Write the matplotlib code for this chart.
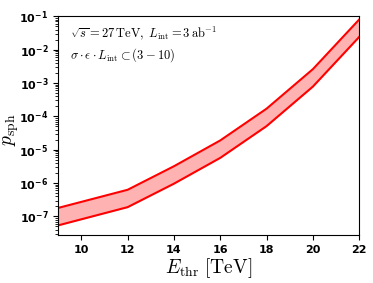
import numpy as np
import matplotlib
matplotlib.use('Agg')
import matplotlib.pyplot as plt

plt.rcParams['mathtext.fontset'] = 'cm'

# threshold energy [TeV] and band edges
E_thr = [9, 12, 14, 16, 18, 20, 22]
p_upper = [1.8e-7, 6.3e-7, 3.2e-6, 1.9e-5, 1.7e-4, 2.6e-3, 8.0e-2]
p_lower = [5.4e-8, 1.9e-7, 9.6e-7, 5.7e-6, 5.1e-5, 7.8e-4, 2.4e-2]

fig = plt.figure(figsize=(3.73, 2.83), dpi=100)
p = fig.add_axes([0.156, 0.17, 0.807, 0.775])
p.fill_between(E_thr, p_lower, p_upper, color='red', alpha=0.3, linewidth=0)
p.plot(E_thr, p_upper, 'r', E_thr, p_lower, 'r', linewidth=1.5)
p.set_yscale('log')
p.set_xlim(9, 22)
p.set_ylim(2.8e-8, 0.105)
p.set_xticks([10, 12, 14, 16, 18, 20, 22])
p.set_yticks([1e-7, 1e-6, 1e-5, 1e-4, 1e-3, 1e-2, 1e-1])
p.tick_params(labelsize=8)
for lab in p.get_xticklabels() + p.get_yticklabels():
    lab.set_fontweight('bold')
p.set_xlabel(r'$E_{\rm thr}\ [\rm TeV]$', fontsize=14, labelpad=1)
p.set_ylabel(r'$p_{\rm sph}$', fontsize=14)
p.yaxis.set_label_coords(-0.122, 0.48)
p.text(0.04, 0.92, r'$\sqrt{s}=27\,{\rm TeV},\ L_{\rm int}=3\,{\rm ab}^{-1}$',
       transform=p.transAxes, fontsize=9, va='center')
p.text(0.04, 0.82, r'$\sigma\cdot\epsilon\cdot L_{\rm int}\subset(3-10)$',
       transform=p.transAxes, fontsize=9, va='center')
fig.savefig("out.png", dpi=100)
